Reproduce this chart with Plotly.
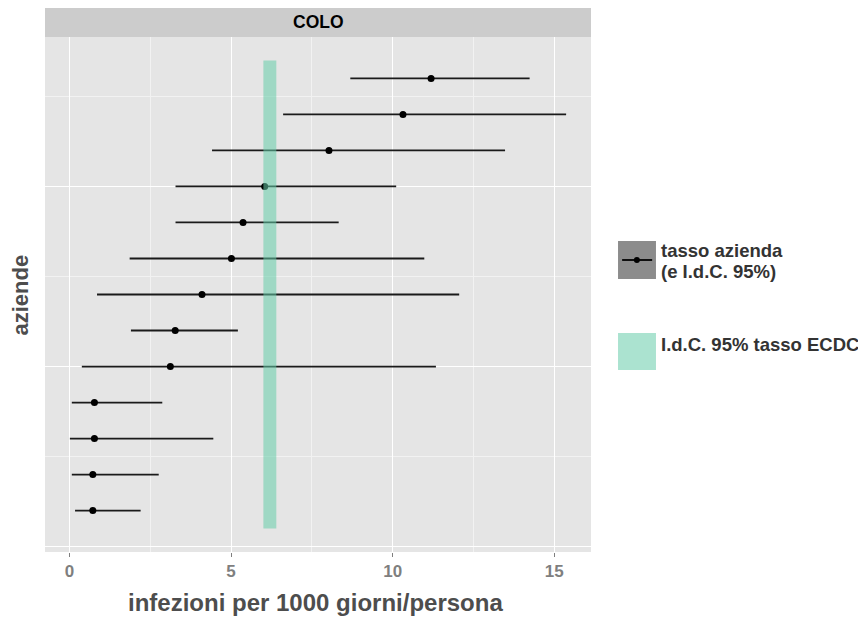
import plotly.graph_objects as go

# ---- data (aziende numbered bottom -> top) ----
aziende = list(range(1, 14))
tasso = [0.72, 0.72, 0.77, 0.77, 3.12, 3.27, 4.10, 5.01, 5.37, 6.04, 8.03, 10.32, 11.19]
ic_low = [0.17, 0.07, 0.01, 0.07, 0.38, 1.90, 0.85, 1.86, 3.28, 3.28, 4.41, 6.61, 8.69]
ic_high = [2.20, 2.76, 4.45, 2.87, 11.34, 5.21, 12.06, 10.98, 8.33, 10.11, 13.48, 15.37, 14.24]

ecdc_low = 6.0
ecdc_high = 6.4
ecdc_ymin = 0.5
ecdc_ymax = 13.5

x_ticks = [0, 5, 10, 15]
x_minor = [2.5, 7.5, 12.5]
y_ticks = [0, 5, 10]
y_minor = [2.5, 7.5, 12.5]

panel_title = "COLO"
x_title = "infezioni per 1000 giorni/persona"
y_title = "aziende"
leg1_a = "tasso azienda"
leg1_b = "(e I.d.C. 95%)"
leg2 = "I.d.C. 95% tasso ECDC"

FONT = "Liberation Sans"
GREEN = "rgba(102,205,170,0.55)"
GREEN_KEY = "#abe3d0"

plus = [h - t for h, t in zip(ic_high, tasso)]
minus = [t - l for t, l in zip(tasso, ic_low)]

fig = go.Figure()
fig.add_trace(go.Scatter(
    x=tasso, y=aziende, mode="markers",
    marker=dict(color="black", size=7),
    error_x=dict(type="data", symmetric=False, array=plus, arrayminus=minus,
                 width=0, thickness=1.8, color="#1a1a1a"),
    showlegend=False, hoverinfo="x+y",
))

shapes = [
    # ECDC interval band
    dict(type="rect", xref="x", yref="y", x0=ecdc_low, x1=ecdc_high,
         y0=ecdc_ymin, y1=ecdc_ymax, fillcolor=GREEN, line=dict(width=0),
         layer="above"),
    # facet strip
    dict(type="rect", xref="paper", yref="paper", x0=0, x1=1, y0=1.0, y1=1.0563,
         fillcolor="#cccccc", line=dict(width=0), layer="below"),
    # legend key 1
    dict(type="rect", xref="paper", yref="paper", x0=1.0495, x1=1.119,
         y0=0.5301, y1=0.6039, fillcolor="#8c8c8c", line=dict(width=0)),
    dict(type="line", xref="paper", yref="paper", x0=1.057, x1=1.112,
         y0=0.567, y1=0.567, line=dict(color="black", width=1.8)),
    dict(type="circle", xref="paper", yref="paper", xsizemode="pixel",
         ysizemode="pixel", xanchor=1.084, yanchor=0.567, x0=-3, x1=3, y0=-3, y1=3,
         fillcolor="black", line=dict(width=0)),
    # legend key 2
    dict(type="rect", xref="paper", yref="paper", x0=1.0495, x1=1.119,
         y0=0.3534, y1=0.4252, fillcolor=GREEN_KEY, line=dict(width=0)),
]

leg_font = dict(family=FONT, size=18.5, color="#333333")
annotations = [
    dict(text="<b>" + panel_title + "</b>", xref="paper", yref="paper", x=0.5, y=1.029,
         showarrow=False, font=dict(family=FONT, size=17.5, color="black"),
         xanchor="center", yanchor="middle"),
    dict(text="<b>" + x_title + "</b>", xref="paper", yref="paper", x=0.495, y=-0.099,
         showarrow=False, font=dict(family=FONT, size=24, color="#4d4d4d"),
         xanchor="center", yanchor="middle"),
    dict(text="<b>" + y_title + "</b>", xref="paper", yref="paper", x=-0.044, y=0.5,
         showarrow=False, textangle=-90, font=dict(family=FONT, size=22, color="#4d4d4d"),
         xanchor="center", yanchor="middle"),
    dict(text="<b>" + leg1_a + "</b>", xref="paper", yref="paper", x=1.1245, y=0.5845,
         showarrow=False, align="left", font=leg_font,
         xanchor="left", yanchor="middle"),
    dict(text="<b>" + leg1_b + "</b>", xref="paper", yref="paper", x=1.1245, y=0.5456,
         showarrow=False, align="left", font=leg_font,
         xanchor="left", yanchor="middle"),
    dict(text="<b>" + leg2 + "</b>", xref="paper", yref="paper", x=1.1245, y=0.402,
         showarrow=False, align="left", font=leg_font,
         xanchor="left", yanchor="middle"),
]

fig.update_layout(
    width=858, height=610,
    margin=dict(l=37, r=275, t=29, b=66),
    paper_bgcolor="white", plot_bgcolor="#e5e5e5",
    shapes=shapes, annotations=annotations,
    font=dict(family=FONT),
    xaxis=dict(range=[-0.76, 16.14], tickvals=x_ticks, ticktext=[f"<b>{v}</b>" for v in x_ticks],
               showgrid=True, gridcolor="white", gridwidth=1.4, zeroline=False,
               ticks="outside", ticklen=4, tickcolor="#7f7f7f", tickwidth=1,
               tickfont=dict(family=FONT, size=17, color="#7f7f7f"),
               minor=dict(tickvals=x_minor, showgrid=True, gridcolor="#f2f2f2",
                          gridwidth=0.8, ticks=""),
               showline=False, fixedrange=True),
    yaxis=dict(range=[-0.15, 14.15], tickvals=y_ticks, showticklabels=False,
               showgrid=True, gridcolor="white", gridwidth=1.4, zeroline=False,
               ticks="",
               minor=dict(tickvals=y_minor, showgrid=True, gridcolor="#f2f2f2",
                          gridwidth=0.8, ticks=""),
               showline=False, fixedrange=True),
)

fig.write_html("out.html")
